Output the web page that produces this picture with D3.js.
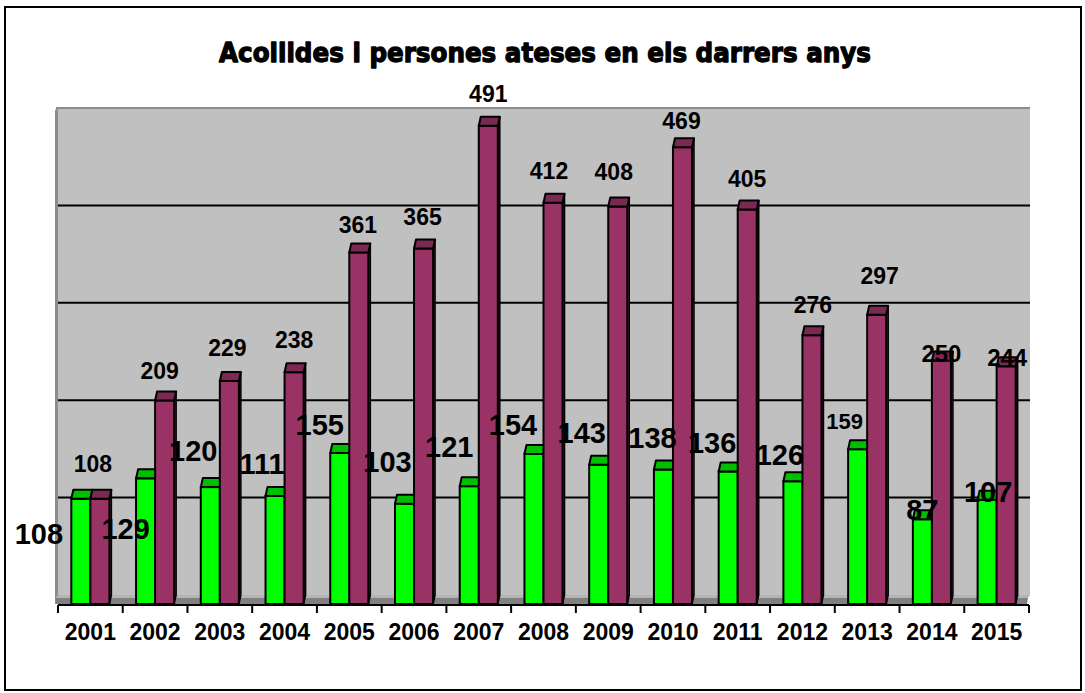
<html>
<head>
<meta charset="utf-8">
<script src="https://d3js.org/d3.v7.min.js"></script>
<style>
    body { margin: 0; background: #fff; }
    svg { font-family: "Liberation Sans", Arial, sans-serif; }
    .lbl { font-weight: bold; fill: #000; }
</style>
</head>
<body>
<div id="chart"></div>
<script>
    // data
    var years = ["2001", "2002", "2003", "2004", "2005", "2006", "2007", "2008",
                 "2009", "2010", "2011", "2012", "2013", "2014", "2015"];
    var acollides = [108, 129, 120, 111, 155, 103, 121, 154, 143, 138, 136, 126, 159, 87, 107];
    var ateses = [108, 209, 229, 238, 361, 365, 491, 412, 408, 469, 405, 276, 297, 250, 244];
    var gridValues = [100, 200, 300, 400];

    // hand-placed data labels (as in the original sheet): [dx, dy] from bar top
    var nudgeGreen = [[-42, 54], [-20, 70], [-17, -17], [-13, -13], [-20, -9], [-17, -23], [-20, -20],
                      [-21, -10], [-17, -13], [-11, -13], [-16, -10], [-13, -7], [-13, -11], [0, 10], [1, 11]];
    var nudgeMaroon = [[-7, -18], [-5, -12], [-2, -16], [0, -15], [-1, -10], [-1, -14], [0, -15],
                       [-4, -15], [-4, -18], [-1, -9], [0, -14], [1, -13], [3, -22], [0, 10], [1, 9]];
    var sizeGreen = [29, 29, 29, 29, 29, 29, 29, 29, 29, 29, 29, 29, 22, 29, 29];
    var sizeMaroon = [23, 23, 23, 23, 23, 23, 23, 23, 23, 23, 23, 23, 23, 24, 24];

    var W = 1085, H = 693;
    var wallLeft = 58, wallRight = 1030, wallTop = 108, wallBottom = 595;
    var depthX = 2, depthY = 9;

    var svg = d3.select("#chart").append("svg")
        .attr("width", W).attr("height", H);

    // outer frame
    svg.append("rect")
        .attr("x", 5).attr("y", 7).attr("width", 1076).attr("height", 683)
        .attr("fill", "#fff").attr("stroke", "#000").attr("stroke-width", 2);

    // title
    svg.append("text")
        .attr("x", 545).attr("y", 62)
        .attr("text-anchor", "middle")
        .attr("textLength", 652).attr("lengthAdjust", "spacingAndGlyphs")
        .style("font-family", "'DejaVu Sans', sans-serif")
        .style("font-weight", "bold")
        .style("font-size", "27px")
        .style("stroke", "#000").style("stroke-width", "1.3px")
        .style("stroke-linejoin", "round")
        .text("Acollides i persones ateses en els darrers anys");

    /* Scales */
    var x = d3.scaleBand().domain(years).range([wallLeft, 1029]).padding(0);
    var sub = d3.scaleBand().domain(["g", "m"]).range([0, x.bandwidth()])
        .paddingInner(0).paddingOuter(0.7);
    var y = d3.scaleLinear().domain([0, 500]).range([wallBottom, wallTop]);

    /* back wall + side wall + floor */
    svg.append("rect")
        .attr("x", wallLeft).attr("y", wallTop)
        .attr("width", wallRight - wallLeft).attr("height", wallBottom - wallTop)
        .attr("fill", "#c0c0c0");
    svg.append("line")
        .attr("x1", wallLeft - 2).attr("x2", wallRight).attr("y1", wallTop).attr("y2", wallTop)
        .attr("stroke", "#8c8c8c").attr("stroke-width", 2);
    svg.append("polygon")
        .attr("points", [[wallLeft - 3, wallTop + 2], [wallLeft, wallTop], [wallLeft, wallBottom], [wallLeft - 3, wallBottom + depthY]].join(" "))
        .attr("fill", "#8c8c8c");

    svg.selectAll(".grid")
        .data(gridValues).enter()
        .append("line")
        .attr("class", "grid")
        .attr("x1", wallLeft).attr("x2", wallRight)
        .attr("y1", d => y(d)).attr("y2", d => y(d))
        .attr("stroke", "#000").attr("stroke-width", 2);

    svg.append("polygon")
        .attr("points", [[wallLeft, wallBottom], [wallRight, wallBottom], [wallRight - depthX, wallBottom + 3], [wallLeft - depthX, wallBottom + 3]].join(" "))
        .attr("fill", "#b4b4b4");
    svg.append("polygon")
        .attr("points", [[wallLeft - depthX, wallBottom + 3], [wallRight - depthX, wallBottom + 3], [wallRight - 3, wallBottom + depthY], [wallLeft - 3, wallBottom + depthY]].join(" "))
        .attr("fill", "#808080");

    /* bars */
    var series = [
        { key: "g", values: acollides, front: "#00ff00", top: "#00bf00", side: "#00a000" },
        { key: "m", values: ateses, front: "#993366", top: "#7a2952", side: "#6b2447" }
    ];

    var bars = [];
    years.forEach(function(yr, i) {
        series.forEach(function(s) {
            bars.push({ year: yr, value: s.values[i], s: s });
        });
    });

    var g = svg.append("g").attr("class", "bars");
    bars.forEach(function(d) {
        var x0 = x(d.year) + sub(d.s.key);
        var w = sub.bandwidth();
        var top = y(d.value);
        var base = y(0);
        // side face
        g.append("polygon")
            .attr("points", [[x0 + w, top + depthY], [x0 + w + depthX, top], [x0 + w + depthX, base], [x0 + w, base + depthY]].join(" "))
            .attr("fill", d.s.side).attr("stroke", "#000").attr("stroke-width", 1.5)
            .attr("stroke-linejoin", "round");
        // front face
        g.append("rect")
            .attr("x", x0).attr("y", top + depthY)
            .attr("width", w).attr("height", base - top)
            .attr("fill", d.s.front).attr("stroke", "#000").attr("stroke-width", 2);
        // top cap
        g.append("polygon")
            .attr("points", [[x0 + depthX, top], [x0 + w + depthX, top], [x0 + w, top + depthY], [x0, top + depthY]].join(" "))
            .attr("fill", d.s.top).attr("stroke", "#000").attr("stroke-width", 2)
            .attr("stroke-linejoin", "round");
    });

    /* category axis */
    var axisY = wallBottom + depthY + 1;
    svg.append("line")
        .attr("x1", wallLeft).attr("x2", 1029).attr("y1", axisY).attr("y2", axisY)
        .attr("stroke", "#000").attr("stroke-width", 2);
    var tickX = years.map(d => x(d)).concat([x(years[years.length - 1]) + x.bandwidth()]);
    svg.selectAll(".tick")
        .data(tickX).enter()
        .append("line")
        .attr("x1", d => d).attr("x2", d => d)
        .attr("y1", axisY).attr("y2", axisY + 8)
        .attr("stroke", "#000").attr("stroke-width", 2);
    svg.selectAll(".year")
        .data(years).enter()
        .append("text")
        .attr("class", "lbl")
        .attr("x", d => x(d) + x.bandwidth() / 2)
        .attr("y", 640)
        .attr("text-anchor", "middle")
        .style("font-size", "23px")
        .text(d => d);

    /* data labels */
    function labels(values, key, nudge, sizes) {
        svg.append("g").selectAll("text")
            .data(values).enter()
            .append("text")
            .attr("class", "lbl")
            .attr("text-anchor", "middle")
            .attr("x", (d, i) => x(years[i]) + sub(key) + sub.bandwidth() / 2 + nudge[i][0])
            .attr("y", (d, i) => y(d) + nudge[i][1])
            .style("font-size", (d, i) => sizes[i] + "px")
            .text(d => d);
    }
    labels(ateses, "m", nudgeMaroon, sizeMaroon);
    labels(acollides, "g", nudgeGreen, sizeGreen);
</script>
</body>
</html>
